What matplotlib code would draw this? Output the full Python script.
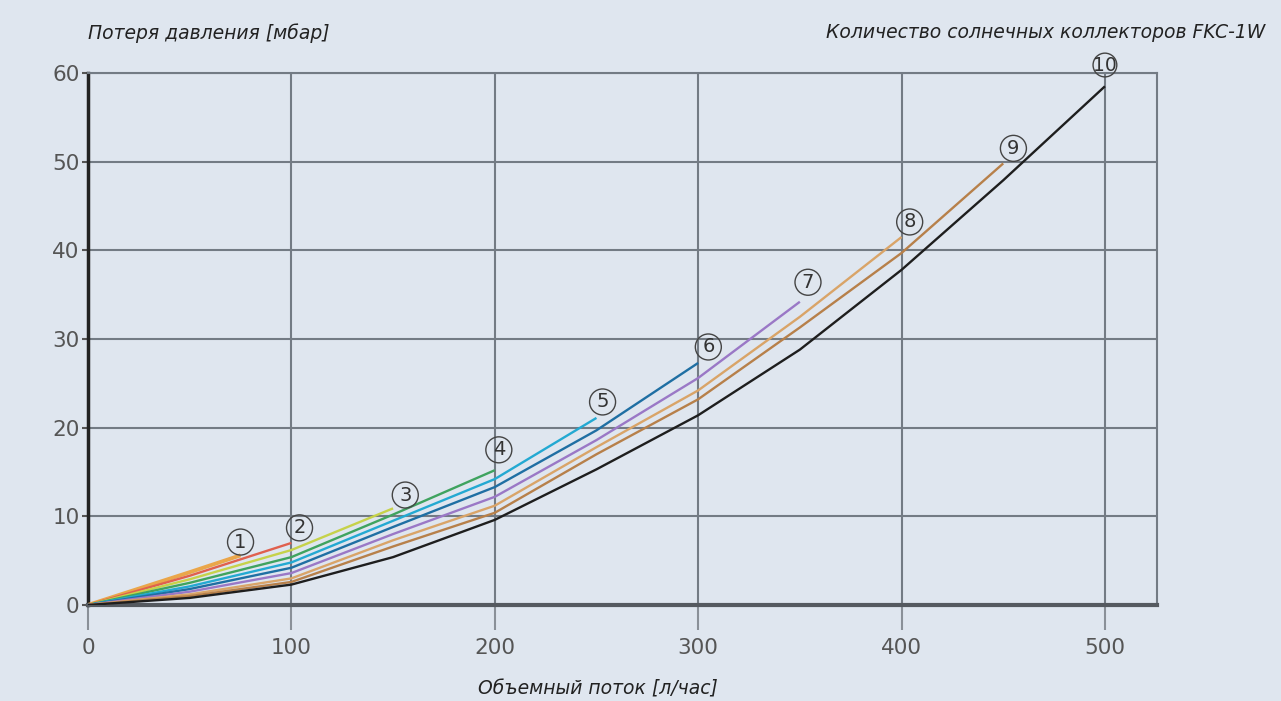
import matplotlib.pyplot as plt

# flow [l/h] -> pressure loss [mbar], one curve per number of collectors
flow = [0, 50, 100, 150, 200, 250, 300, 350, 400, 450, 500]
curve_1 = [0, 3.7, 5.6]          # ends at 75 l/h
flow_1 = [0, 50, 75]
curve_2 = [0, 3.3, 7.0]
curve_3 = [0, 2.9, 6.2, 10.9]
curve_4 = [0, 2.5, 5.4, 10.2, 15.2]
curve_5 = [0, 2.1, 4.8, 9.5, 14.2, 21.1]
curve_6 = [0, 1.8, 4.2, 8.8, 13.3, 19.7, 27.3]
curve_7 = [0, 1.5, 3.6, 8.0, 12.2, 18.6, 25.6, 34.2]
curve_8 = [0, 1.2, 3.0, 7.3, 11.2, 17.8, 24.2, 32.5, 41.5]
curve_9 = [0, 1.0, 2.6, 6.6, 10.4, 17.0, 23.2, 31.3, 39.7, 49.8]
curve_10 = [0, 0.8, 2.3, 5.4, 9.6, 15.3, 21.4, 28.8, 37.8, 47.9, 58.5]

label_num = ["1", "2", "3", "4", "5", "6", "7", "8", "9", "10"]
label_x = [75, 104, 156, 202, 253, 305, 354, 404, 455, 500]
label_y = [7.1, 8.7, 12.4, 17.5, 22.9, 29.1, 36.4, 43.2, 51.5, 60.9]

colors = ["#eaa64a", "#e0604e", "#c6d24a", "#3fa35f", "#23a9d2",
          "#1f6fa3", "#9a78c6", "#d9a468", "#b7804a", "#1e1e1e"]

bg = "#dfe6ef"
fig = plt.figure(figsize=(12.81, 7.01), dpi=100, facecolor=bg)
ax = fig.add_axes([88/1281, 96/701, 1069/1281, 532/701], facecolor=bg)

series = [curve_1, curve_2, curve_3, curve_4, curve_5, curve_6, curve_7, curve_8, curve_9, curve_10]
for i, ys in enumerate(series):
    xs = flow_1 if i == 0 else flow[:len(ys)]
    lw = 2.8 if i == 0 else 1.7
    ax.plot(xs, ys, color=colors[i], lw=lw, solid_capstyle="butt", zorder=3)

for t, x, y in zip(label_num, label_x, label_y):
    fs = 13.5 if len(t) > 1 else 14
    pad = 0.0 if len(t) > 1 else 0.18
    ax.text(x, y, t, ha="center", va="center", fontsize=fs,
            color="#333333", clip_on=False, zorder=4,
            bbox=dict(boxstyle="circle,pad=%s" % pad, fc="none", ec="#444444", lw=1))

ax.set_xlim(0, 525.6)
ax.set_ylim(0, 60)
ax.set_xticks([0, 100, 200, 300, 400, 500])
ax.set_yticks([0, 10, 20, 30, 40, 50, 60])
ax.grid(True, color="#737b84", lw=1.5, zorder=1)
ax.tick_params(axis="x", length=18, width=1.5, color="#8a9098", pad=6,
               labelsize=15.5, labelcolor="#555555")
ax.tick_params(axis="y", length=4, width=1.5, color="#555555", pad=2,
               labelsize=15.5, labelcolor="#555555")
for s in ["top", "right"]:
    ax.spines[s].set_color("#737b84")
    ax.spines[s].set_linewidth(1.5)
ax.spines["left"].set_color("#222222")
ax.spines["left"].set_linewidth(2.5)
ax.spines["bottom"].set_color("#555a60")
ax.spines["bottom"].set_linewidth(3)

fig.text(88/1281, 1 - 33/701, "Потеря давления [мбар]", style="italic",
         fontsize=13.5, color="#222222", ha="left", va="center")
fig.text(1265/1281, 1 - 33/701, "Количество солнечных коллекторов FKC-1W", style="italic",
         fontsize=13.5, color="#222222", ha="right", va="center")
fig.text(598/1281, 1 - 689/701, "Объемный поток [л/час]", style="italic",
         fontsize=13.5, color="#222222", ha="center", va="center")

fig.savefig("out.png", dpi=100, facecolor=bg)
